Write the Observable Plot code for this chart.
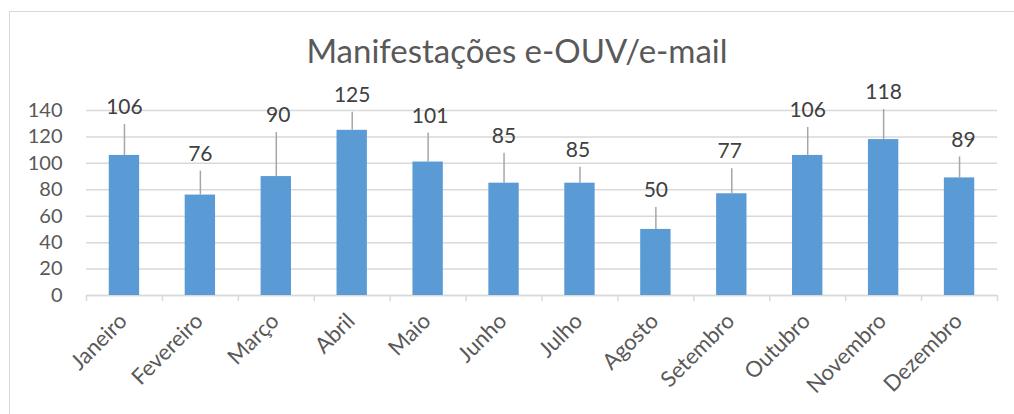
<!DOCTYPE html>
<html>
<head>
<meta charset="utf-8">
<script src="https://cdn.jsdelivr.net/npm/d3@7"></script>
<script src="https://cdn.jsdelivr.net/npm/@observablehq/plot@0.6"></script>
<style>
  html, body { margin: 0; padding: 0; background: #fff; overflow: hidden; }
  #wrap { position: relative; width: 1014px; height: 414px; font-family: Lato, "Open Sans", sans-serif; }
  #frame { position: absolute; left: 9px; top: 11px; width: 1100px; height: 500px; border: 1px solid #d9d9d9; box-sizing: border-box; }
  #title { position: absolute; left: 517px; top: 34px; transform: translateX(-50%); white-space: nowrap;
           font-size: 33px; color: #595959; font-family: Lato, "Open Sans", sans-serif; line-height: 1; }
  #chart { position: absolute; left: 0; top: 0; }
</style>
</head>
<body>
<div id="wrap">
  <div id="frame"></div>
  <div id="chart"></div>
  <div id="title"></div>
</div>
<script>
// ---- data ----
const titleText = "Manifestações e-OUV/e-mail";
const months = ["Janeiro","Fevereiro","Março","Abril","Maio","Junho","Julho","Agosto","Setembro","Outubro","Novembro","Dezembro"];
const counts = [106, 76, 90, 125, 101, 85, 85, 50, 77, 106, 118, 89];
const yTicks = [0, 20, 40, 60, 80, 100, 120, 140];

// ---- label layout (px above bar top, px horizontal shift) ----
const labelRise = [48, 41, 61, 35, 46, 47, 33, 39, 42, 45, 47, 38];
const labelShift = [0, 0, 2, 0, 2, 0, -2, 0, -2, 0, 0, 4];

const W = 1014, H = 414, mT = 110, mB = 119, mL = 86, mR = 17;
const pxPerUnit = (H - mT - mB) / 140;
const step = (W - mL - mR) / months.length;
const leaderGap = 17;

const data = months.map((m, i) => ({
  month: m,
  count: counts[i],
  labelY: counts[i] + labelRise[i] / pxPerUnit,
  leaderTop: counts[i] + (labelRise[i] - leaderGap) / pxPerUnit,
  shift: labelShift[i]
}));

document.getElementById("title").textContent = titleText;

const grey = "#595959";
const chart = Plot.plot({
  width: W, height: H,
  marginTop: mT, marginBottom: mB, marginLeft: mL, marginRight: mR,
  style: { fontFamily: "Lato, 'Open Sans', sans-serif", color: grey, background: "transparent", overflow: "visible" },
  x: { domain: months, paddingInner: 0.6, paddingOuter: 0.3, round: false, label: null },
  y: { domain: [0, 140], label: null },
  marks: [
    Plot.gridY(yTicks, { stroke: "#d9d9d9", strokeOpacity: 1, strokeWidth: 1.5 }),
    Plot.ruleY([0], { stroke: "#d9d9d9", strokeWidth: 1.5 }),
    Plot.ruleX(months, { x: d => d, y1: 0, y2: -6 / pxPerUnit, dx: -step / 2, stroke: "#d9d9d9", strokeWidth: 1.5 }),
    Plot.ruleX([months[months.length - 1]], { x: d => d, y1: 0, y2: -6 / pxPerUnit, dx: step / 2, stroke: "#d9d9d9", strokeWidth: 1.5 }),
    Plot.barY(data, { x: "month", y: "count", fill: "#5B9BD5" }),
    Plot.ruleX(data, { x: "month", y1: "count", y2: "leaderTop", stroke: "#a6a6a6", strokeWidth: 1.5 }),
    ...data.map(d => Plot.text([d], { x: "month", y: "labelY", text: d => String(d.count), dx: d.shift,
      fontSize: 21, fill: "#404040", lineAnchor: "middle" })),
    Plot.axisY(yTicks, { tickSize: 0, tickPadding: 24, fontSize: 20, fill: grey, label: null }),
    Plot.axisX({ tickSize: 0, tickPadding: 22, dx: -1, tickRotate: -45, fontSize: 22, fill: grey, label: null })
  ]
});
document.getElementById("chart").appendChild(chart);
</script>
</body>
</html>
